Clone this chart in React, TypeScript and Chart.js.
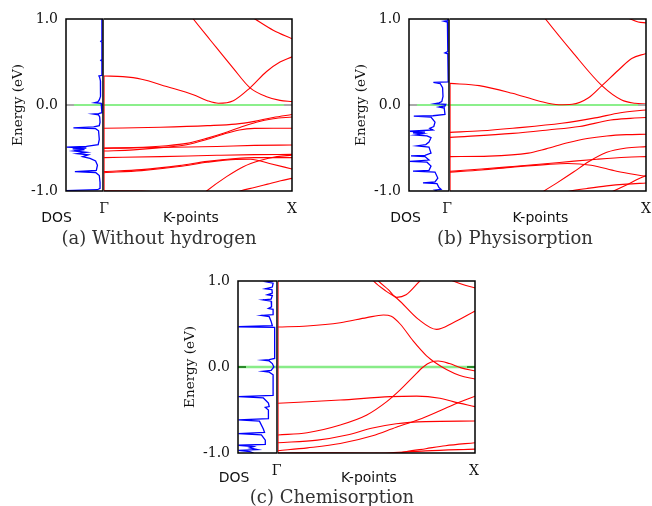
import React, { useEffect, useRef } from "react";
import { Chart, registerables } from "chart.js";

Chart.register(...registerables);

type P = [number, number];

// ---------- text / tick data ----------
const Y_TICK_VALUES = [-1, 0, 1];
const Y_TICK_LABELS = ["-1.0", "0.0", "1.0"];
const Y_TITLE = "Energy (eV)";
const X_LABELS = ["DOS", "Γ", "K-points", "X"];
const CAPTIONS = ["(a) Without hydrogen", "(b) Physisorption", "(c) Chemisorption"];

// ---------- DOS data (energy in eV, DOS normalised to panel width) ----------
const dosA_E = [1.0, 0.75, 0.74, 0.73, 0.53, 0.52, 0.51, 0.345, 0.337, 0.32, 0.28, 0.2, 0.1, 0.06, 0.035, 0.027, 0.02, 0.0,
  -0.09, -0.1, -0.105, -0.115, -0.14, -0.2, -0.24, -0.255, -0.265, -0.275, -0.3, -0.4, -0.46, -0.48, -0.49, -0.5, -0.51,
  -0.52, -0.535, -0.55, -0.565, -0.58, -0.6, -0.62, -0.65, -0.7, -0.76, -0.775, -0.785, -0.82, -0.9, -0.97, -0.985, -0.995, -1.0];
const dosA_V = [0.03, 0.03, 0.06, 0.03, 0.03, 0.06, 0.03, 0.03, 0.11, 0.09, 0.07, 0.065, 0.07, 0.1, 0.14, 0.22, 0.05, 0.03,
  0.03, 0.12, 0.27, 0.12, 0.09, 0.08, 0.1, 0.25, 0.8, 0.2, 0.12, 0.1, 0.13, 0.45, 0.98, 0.45, 0.82,
  0.5, 0.78, 0.45, 0.7, 0.4, 0.55, 0.35, 0.2, 0.15, 0.18, 0.76, 0.2, 0.1, 0.08, 0.08, 0.15, 0.98, 0.98];

const dosB_E = [1.0, 0.98, 0.975, 0.965, 0.62, 0.605, 0.595, 0.27, 0.262, 0.25, 0.2, 0.1, 0.04, 0.025, 0.016, 0.008, -0.01,
  -0.023, -0.035, -0.11, -0.125, -0.13, -0.14, -0.2, -0.25, -0.27, -0.29, -0.305, -0.315, -0.325, -0.335, -0.35, -0.36,
  -0.38, -0.43, -0.46, -0.475, -0.49, -0.56, -0.585, -0.592, -0.6, -0.64, -0.655, -0.665, -0.71, -0.76, -0.77, -0.78,
  -0.85, -0.895, -0.905, -0.915, -0.96, -0.98, -0.99, -1.0];
const dosB_V = [0.03, 0.03, 0.12, 0.04, 0.03, 0.1, 0.03, 0.02, 0.39, 0.22, 0.16, 0.15, 0.18, 0.25, 0.35, 0.08, 0.1,
  0.25, 0.12, 0.1, 0.4, 0.88, 0.45, 0.35, 0.38, 0.48, 0.4, 0.98, 0.6, 0.9, 0.65, 0.85, 0.55,
  0.45, 0.5, 0.58, 0.8, 0.5, 0.45, 0.6, 0.95, 0.6, 0.5, 0.98, 0.55, 0.45, 0.5, 0.9, 0.35,
  0.28, 0.35, 0.65, 0.3, 0.25, 0.2, 0.35, 0.3];

const dosC_E = [1.0, 0.99, 0.975, 0.93, 0.91, 0.9, 0.86, 0.84, 0.83, 0.79, 0.78, 0.765, 0.7, 0.68, 0.67, 0.61, 0.6, 0.585,
  0.53, 0.48, 0.468, 0.46, 0.1, 0.085, 0.08, 0.07, 0.04, 0.0, -0.04, -0.05, -0.06, -0.09, -0.33, -0.345, -0.36, -0.42,
  -0.46, -0.47, -0.5, -0.6, -0.615, -0.63, -0.72, -0.76, -0.775, -0.79, -0.85, -0.9, -0.91, -0.925, -0.94, -0.96, -0.97,
  -0.985, -1.0];
const dosC_V = [0.1, 0.27, 0.1, 0.12, 0.3, 0.13, 0.12, 0.25, 0.12, 0.15, 0.36, 0.15, 0.14, 0.22, 0.1, 0.1, 0.4, 0.2,
  0.15, 0.12, 0.99, 0.06, 0.06, 0.2, 0.36, 0.2, 0.12, 0.08, 0.15, 0.36, 0.2, 0.1, 0.1, 0.99, 0.35, 0.22,
  0.2, 0.3, 0.22, 0.22, 0.99, 0.45, 0.35, 0.32, 0.99, 0.4, 0.3, 0.3, 0.99, 0.6, 0.7, 0.5, 0.99,
  0.7, 0.6];

// ---------- band structure data ([k from Γ=0 to X=1, energy eV]) ----------
const bandsA: P[][] = [
  [[0, 0.337], [0.1, 0.33], [0.2, 0.3], [0.333, 0.215], [0.475, 0.12], [0.55, 0.05], [0.608, 0.02], [0.688, 0.05], [0.777, 0.2], [0.865, 0.39], [0.936, 0.5], [1, 0.56]],
  [[0.44, 1.1], [0.475, 1.0], [0.565, 0.756], [0.688, 0.426], [0.777, 0.2], [0.865, 0.097], [0.936, 0.054], [1, 0.04]],
  [[0.73, 1.1], [0.803, 1.0], [0.9, 0.87], [1, 0.77]],
  [[0, -0.271], [0.3, -0.258], [0.55, -0.24], [0.7, -0.222], [0.8, -0.19], [0.9, -0.145], [1, -0.11]],
  [[0, -0.504], [0.156, -0.496], [0.333, -0.473], [0.44, -0.446], [0.546, -0.388], [0.635, -0.329], [0.723, -0.262], [0.81, -0.2], [0.9, -0.16], [1, -0.14]],
  [[0, -0.535], [0.156, -0.522], [0.333, -0.49], [0.44, -0.462], [0.546, -0.402], [0.635, -0.34], [0.72, -0.29], [0.8, -0.272], [0.9, -0.27], [1, -0.271]],
  [[0, -0.5], [0.3, -0.495], [0.6, -0.482], [0.8, -0.47], [1, -0.465]],
  [[0, -0.612], [0.3, -0.6], [0.6, -0.585], [0.8, -0.577], [1, -0.574]],
  [[0, -0.775], [0.2, -0.752], [0.4, -0.705], [0.55, -0.655], [0.7, -0.622], [0.8, -0.612], [1, -0.612]],
  [[0, -0.787], [0.2, -0.763], [0.4, -0.716], [0.55, -0.665], [0.7, -0.632], [0.78, -0.63], [0.88, -0.68], [1, -0.744]],
  [[0.52, -1.05], [0.546, -1.0], [0.652, -0.833], [0.741, -0.717], [0.83, -0.645], [0.92, -0.6], [1, -0.585]],
  [[0.7, -1.03], [0.725, -1.0], [0.8, -0.96], [0.87, -0.92], [0.94, -0.88], [1, -0.853]],
  [[0, -0.998], [0.2, -1.0], [0.35, -1.02]],
];
const gammaA: P[] = [[0, -1], [0, 0.337]];

const bandsB: P[][] = [
  [[0, 0.252], [0.149, 0.225], [0.318, 0.136], [0.453, 0.047], [0.555, 0.003], [0.623, 0.008], [0.707, 0.085], [0.775, 0.225], [0.86, 0.407], [0.927, 0.54], [1, 0.6]],
  [[0.46, 1.08], [0.487, 1.0], [0.623, 0.62], [0.775, 0.225], [0.876, 0.058], [0.944, 0.02], [1, 0.01]],
  [[0.85, 1.08], [0.92, 1.0], [0.96, 0.965], [1, 0.955]],
  [[0, -0.318], [0.16, -0.3], [0.32, -0.27], [0.57, -0.213], [0.74, -0.15], [0.87, -0.09], [1, -0.058]],
  [[0, -0.376], [0.32, -0.33], [0.5, -0.29], [0.66, -0.25], [0.82, -0.175], [0.92, -0.155], [1, -0.145]],
  [[0, -0.6], [0.2, -0.595], [0.4, -0.56], [0.49, -0.51], [0.6, -0.44], [0.7, -0.39], [0.8, -0.36], [0.9, -0.345], [1, -0.34]],
  [[0, -0.77], [0.16, -0.745], [0.32, -0.715], [0.5, -0.68], [0.62, -0.655], [0.75, -0.63], [0.9, -0.607], [1, -0.6]],
  [[0, -0.78], [0.16, -0.755], [0.32, -0.722], [0.5, -0.69], [0.6, -0.68], [0.72, -0.7], [0.85, -0.77], [1, -0.83]],
  [[0.45, -1.05], [0.48, -1.0], [0.55, -0.9], [0.63, -0.78], [0.707, -0.66], [0.8, -0.55], [0.9, -0.5], [1, -0.484]],
  [[0.58, -1.02], [0.614, -1.0], [0.7, -0.97], [0.8, -0.94], [0.9, -0.92], [1, -0.907]],
  [[0.8, -1.04], [0.834, -1.0], [0.9, -0.93], [0.96, -0.86], [1, -0.82]],
];
const gammaB: P[] = [[0, -1], [0, 0.252]];

const bandsC: P[][] = [
  [[0, 0.465], [0.148, 0.477], [0.316, 0.515], [0.451, 0.574], [0.535, 0.605], [0.575, 0.59], [0.62, 0.5], [0.687, 0.3], [0.754, 0.13], [0.805, 0.04], [0.855, -0.03], [0.923, -0.1], [1, -0.14]],
  [[0, -0.79], [0.148, -0.764], [0.316, -0.674], [0.451, -0.558], [0.552, -0.403], [0.62, -0.267], [0.687, -0.112], [0.737, 0.0], [0.775, 0.055], [0.813, 0.07], [0.87, 0.04], [0.93, -0.01], [1, -0.047]],
  [[0.46, 1.08], [0.485, 1.0], [0.55, 0.88], [0.603, 0.8], [0.71, 0.56], [0.805, 0.438], [0.889, 0.515], [1, 0.651]],
  [[0.49, 1.05], [0.51, 1.0], [0.56, 0.9], [0.603, 0.81], [0.65, 0.84], [0.72, 1.0], [0.75, 1.06]],
  [[0.85, 1.04], [0.889, 1.0], [0.95, 0.95], [1, 0.92]],
  [[0, -0.422], [0.316, -0.384], [0.57, -0.345], [0.704, -0.339], [0.822, -0.364], [0.889, -0.403], [1, -0.461]],
  [[0, -0.973], [0.15, -0.94], [0.316, -0.89], [0.48, -0.8], [0.6, -0.7], [0.73, -0.6], [0.85, -0.48], [0.93, -0.4], [1, -0.34]],
  [[0, -0.88], [0.2, -0.85], [0.35, -0.79], [0.48, -0.71], [0.6, -0.66], [0.75, -0.635], [1, -0.628]],
  [[0.6, -1.01], [0.653, -0.984], [0.75, -0.95], [0.85, -0.915], [1, -0.88]],
  [[0.45, -1.01], [0.55, -1.0], [0.75, -0.975], [1, -0.955]],
  [[0, -1.0], [0.3, -0.997], [0.5, -1.0], [0.6, -1.01]],
];
const gammaC: P[] = [[0, -1], [0, 1]];

// ---------- styling / layout ----------
const RED = "#ff0000";
const BLUE = "#0000ff";
const AXIS_W = 60;
const PAD = 20;
const SERIF = "'DejaVu Serif', 'Liberation Serif', serif";
const SANS = "'DejaVu Sans', 'Liberation Sans', sans-serif";

type Panel = {
  frameL: number; gammaX: number; frameR: number; top: number; bottom: number;
  dosE: number[]; dosV: number[]; bands: P[][]; gamma: P[];
  zeroColor: string; zeroWidth: number; tickColor: string;
  lab: { dos: [number, number]; g: [number, number]; k: [number, number]; x: [number, number]; cap: [number, number] };
};

const PANELS: Panel[] = [
  {
    frameL: 66, gammaX: 104, frameR: 292, top: 19, bottom: 191,
    dosE: dosA_E, dosV: dosA_V, bands: bandsA, gamma: gammaA,
    zeroColor: "#18e018", zeroWidth: 1.2, tickColor: "#aaaaaa",
    lab: { dos: [56.5, 217], g: [104, 208], k: [191, 217], x: [292, 208], cap: [159, 238] },
  },
  {
    frameL: 409, gammaX: 450, frameR: 646, top: 19, bottom: 191,
    dosE: dosB_E, dosV: dosB_V, bands: bandsB, gamma: gammaB,
    zeroColor: "#18e018", zeroWidth: 1.2, tickColor: "#aaaaaa",
    lab: { dos: [405.5, 217], g: [447, 208], k: [540.5, 217], x: [646, 208], cap: [515, 238] },
  },
  {
    frameL: 238, gammaX: 278, frameR: 475, top: 281, bottom: 453,
    dosE: dosC_E, dosV: dosC_V, bands: bandsC, gamma: gammaC,
    zeroColor: "#88ec88", zeroWidth: 2.5, tickColor: "#2a8a2a",
    lab: { dos: [234, 477], g: [276.7, 470], k: [369, 477], x: [474, 470], cap: [332, 497] },
  },
];

function makeFrame(drawL: boolean, drawR: boolean, tickColor: string, tickSide: "l" | "r") {
  return {
    id: "frame",
    afterDatasetsDraw(chart: any) {
      const { ctx, chartArea } = chart;
      const { left, right, top, bottom } = chartArea;
      const y0 = chart.scales.y.getPixelForValue(0);
      ctx.save();
      ctx.lineWidth = 2;
      ctx.strokeStyle = tickColor;
      ctx.beginPath();
      if (tickSide === "l") { ctx.moveTo(left, y0); ctx.lineTo(left + 8, y0); }
      else { ctx.moveTo(right - 8, y0); ctx.lineTo(right, y0); }
      ctx.stroke();
      ctx.lineWidth = 1.5;
      ctx.strokeStyle = "#000";
      ctx.lineCap = "square";
      ctx.beginPath();
      ctx.moveTo(left, top); ctx.lineTo(right, top);
      ctx.moveTo(left, bottom); ctx.lineTo(right, bottom);
      if (drawL) { ctx.moveTo(left, top); ctx.lineTo(left, bottom); }
      if (drawR) { ctx.moveTo(right, top); ctx.lineTo(right, bottom); }
      ctx.stroke();
      ctx.restore();
    },
  };
}

function dosConfig(p: Panel): any {
  return {
    type: "line",
    data: {
      datasets: [
        {
          data: p.dosE.map((e, i) => ({ x: p.dosV[i], y: e })),
          borderColor: BLUE, borderWidth: 1.3, pointRadius: 0, tension: 0, fill: false,
        },
        {
          data: [{ x: 0, y: 0 }, { x: 1, y: 0 }],
          borderColor: p.zeroColor, borderWidth: p.zeroWidth, pointRadius: 0, fill: false,
        },
      ],
    },
    options: {
      animation: false, responsive: false, events: [],
      layout: { padding: { top: PAD, bottom: PAD, left: 0, right: 2 } },
      plugins: { legend: { display: false }, tooltip: { enabled: false } },
      scales: {
        x: { type: "linear", min: 0, max: 1, reverse: true, display: false },
        y: {
          type: "linear", min: -1, max: 1,
          afterBuildTicks: (s: any) => { s.ticks = Y_TICK_VALUES.map((v) => ({ value: v })); },
          afterFit: (s: any) => { s.width = AXIS_W; },
          ticks: {
            callback: (v: any) => { const i = Y_TICK_VALUES.indexOf(Number(v)); return i >= 0 ? Y_TICK_LABELS[i] : ""; },
            font: { family: SERIF, size: 14 }, color: "#111", padding: 8,
          },
          grid: { display: false, drawTicks: false },
          border: { display: false },
          title: {
            display: true, text: Y_TITLE, color: "#111",
            font: { family: SERIF, size: 13.5 }, padding: { top: 4, bottom: 0 },
          },
        },
      },
    },
    plugins: [makeFrame(true, true, p.tickColor, "l")],
  };
}

function bandConfig(p: Panel): any {
  const ds: any[] = [
    {
      data: p.gamma.map(([x, y]) => ({ x, y })),
      borderColor: RED, borderWidth: 1.2, pointRadius: 0, tension: 0, fill: false,
    },
  ];
  p.bands.forEach((b) => {
    ds.push({
      data: b.map(([x, y]) => ({ x, y })),
      borderColor: RED, borderWidth: 1.1, pointRadius: 0, fill: false,
      cubicInterpolationMode: "monotone",
    });
  });
  ds.push({
    data: [{ x: 0, y: 0 }, { x: 1, y: 0 }],
    borderColor: p.zeroColor, borderWidth: p.zeroWidth, pointRadius: 0, fill: false,
  });
  return {
    type: "line",
    data: { datasets: ds },
    options: {
      animation: false, responsive: false, events: [],
      layout: { padding: { top: PAD, bottom: PAD, left: 0, right: 2 } },
      plugins: { legend: { display: false }, tooltip: { enabled: false } },
      scales: {
        x: { type: "linear", min: 0, max: 1, display: false },
        y: { type: "linear", min: -1, max: 1, display: false },
      },
    },
    plugins: [makeFrame(false, true, p.tickColor, "r")],
  };
}

function ChartCanvas(props: { config: any; left: number; top: number; width: number; height: number }) {
  const ref = useRef<HTMLCanvasElement>(null);
  useEffect(() => {
    if (!ref.current) return;
    const chart = new Chart(ref.current, props.config);
    return () => chart.destroy();
  }, []);
  return (
    <canvas
      ref={ref}
      width={props.width}
      height={props.height}
      style={{ position: "absolute", left: props.left, top: props.top, width: props.width, height: props.height }}
    />
  );
}

function Label(props: { text: string; at: [number, number]; font: string; size: number; color?: string }) {
  return (
    <div
      style={{
        position: "absolute", left: props.at[0], top: props.at[1], transform: "translate(-50%, -50%)",
        fontFamily: props.font, fontSize: props.size, color: props.color || "#111", whiteSpace: "nowrap", lineHeight: 1,
      }}
    >
      {props.text}
    </div>
  );
}

export default function App() {
  return (
    <div style={{ position: "absolute", left: 0, top: 0, width: 652, height: 506, background: "#fff", overflow: "hidden" }}>
      {PANELS.map((p, i) => {
        const dosRight = p.gammaX - 1;
        const h = p.bottom - p.top + 2 * PAD;
        return (
          <React.Fragment key={i}>
            <ChartCanvas
              config={dosConfig(p)}
              left={p.frameL - AXIS_W}
              top={p.top - PAD}
              width={AXIS_W + (dosRight - p.frameL) + 2}
              height={h}
            />
            <ChartCanvas
              config={bandConfig(p)}
              left={p.gammaX}
              top={p.top - PAD}
              width={p.frameR - p.gammaX + 2}
              height={h}
            />
            <Label text={X_LABELS[0]} at={p.lab.dos} font={SANS} size={14} />
            <Label text={X_LABELS[1]} at={p.lab.g} font={SERIF} size={14} />
            <Label text={X_LABELS[2]} at={p.lab.k} font={SANS} size={14} />
            <Label text={X_LABELS[3]} at={p.lab.x} font={SERIF} size={14} />
            <Label text={CAPTIONS[i]} at={p.lab.cap} font={SERIF} size={18} color="#333" />
          </React.Fragment>
        );
      })}
    </div>
  );
}
